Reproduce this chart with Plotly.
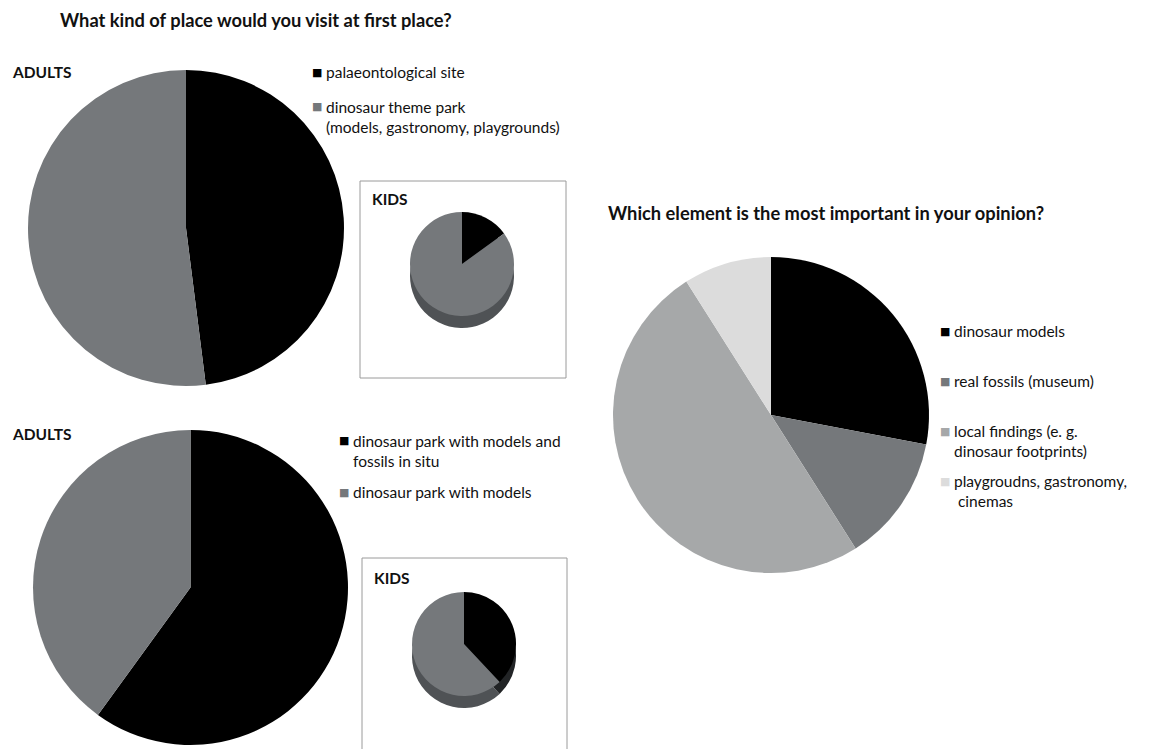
import plotly.graph_objects as go

W, H = 1156, 749

# ---- data ----
q1_labels = ["palaeontological site", "dinosaur theme park<br>(models, gastronomy, playgrounds)"]
q1_adults = [48, 52]
q1_kids = [15, 85]

q2_labels = ["dinosaur park with models and<br>fossils in situ", "dinosaur park with models"]
q2_adults = [60, 40]
q2_kids = [38, 62]

q3_labels = ["dinosaur models", "real fossils (museum)",
             "local findings (e. g.<br>dinosaur footprints)",
             "playgroudns, gastronomy,<br> cinemas"]
q3_values = [28, 13, 50, 9]

two_colors = ["#000000", "#75787b"]
two_side = ["#222426", "#4f5255"]
four_colors = ["#000000", "#75787b", "#a6a8a9", "#dcdcdc"]

FONT = "Lato"
LEG_SIZE = 15.5


def dom(x0, y0, x1, y1):
    return dict(x=[x0 / W, x1 / W], y=[1 - y1 / H, 1 - y0 / H])


def pie(labels, values, colors, d):
    return go.Pie(labels=labels, values=values, sort=False, direction="clockwise",
                  rotation=0, marker=dict(colors=colors, line=dict(width=0)),
                  textinfo="none", hoverinfo="label+percent", domain=d,
                  showlegend=False)


fig = go.Figure()
# top adults
fig.add_trace(pie(q1_labels, q1_adults, two_colors, dom(28, 70, 344, 386)))
# top kids (pseudo-3D: darker base offset below, then top face)
fig.add_trace(pie(q1_labels, q1_kids, two_side, dom(410, 224, 514, 328)))
fig.add_trace(pie(q1_labels, q1_kids, two_colors, dom(410, 212, 514, 316)))
# bottom adults
fig.add_trace(pie(q2_labels, q2_adults, two_colors, dom(33, 430, 348, 745)))
# bottom kids
fig.add_trace(pie(q2_labels, q2_kids, two_side, dom(412, 604, 516, 708)))
fig.add_trace(pie(q2_labels, q2_kids, two_colors, dom(412, 592, 516, 696)))
# right
fig.add_trace(pie(q3_labels, q3_values, four_colors, dom(613, 257, 929, 573)))


def px(x):
    return x / W


def py(y):
    return 1 - y / H


annotations = []


def add_legend(labels, colors, sq_x, txt_x, rows):
    for lab, col, ry in zip(labels, colors, rows):
        annotations.append(dict(text="■", x=px(sq_x), y=py(ry), xanchor="center", yanchor="middle",
                                showarrow=False, font=dict(family="DejaVu Sans", size=11, color=col)))
        annotations.append(dict(text=lab, x=px(txt_x), y=py(ry - 11), xanchor="left", yanchor="top",
                                align="left", showarrow=False,
                                font=dict(family=FONT, size=LEG_SIZE, color="#111")))


add_legend(q1_labels, two_colors, 317, 324, [72, 107])
add_legend(q2_labels, two_colors, 344, 351, [441, 492])
add_legend(q3_labels, four_colors, 945, 952, [331, 381, 431, 481])


def label(text, x, y, size):
    annotations.append(dict(text="<b>%s</b>" % text, x=px(x), y=py(y), xanchor="left",
                            yanchor="middle", showarrow=False,
                            font=dict(family=FONT, size=size, color="#111")))


label("What kind of place would you visit at first place?", 58, 20, 18.3)
label("ADULTS", 10, 72, 15.5)
label("KIDS", 370, 199, 15.5)
label("ADULTS", 10, 434, 15.5)
label("KIDS", 372, 578, 15.5)
label("Which element is the most important in your opinion?", 606, 213, 18.3)

fig.update_layout(
    width=W, height=H, margin=dict(l=0, r=0, t=0, b=0),
    paper_bgcolor="white", plot_bgcolor="white",
    font=dict(family=FONT, size=14, color="#111"),
    showlegend=False,
    shapes=[
        dict(type="rect", xref="paper", yref="paper", x0=px(360), x1=px(566),
             y0=py(378), y1=py(181), line=dict(color="#9a9a9a", width=1)),
        dict(type="rect", xref="paper", yref="paper", x0=px(362), x1=px(567),
             y0=py(760), y1=py(558), line=dict(color="#9a9a9a", width=1)),
    ],
    annotations=annotations,
)

fig.write_html("out.html", config={"displayModeBar": False},
               post_script="document.body.style.margin='0';")
